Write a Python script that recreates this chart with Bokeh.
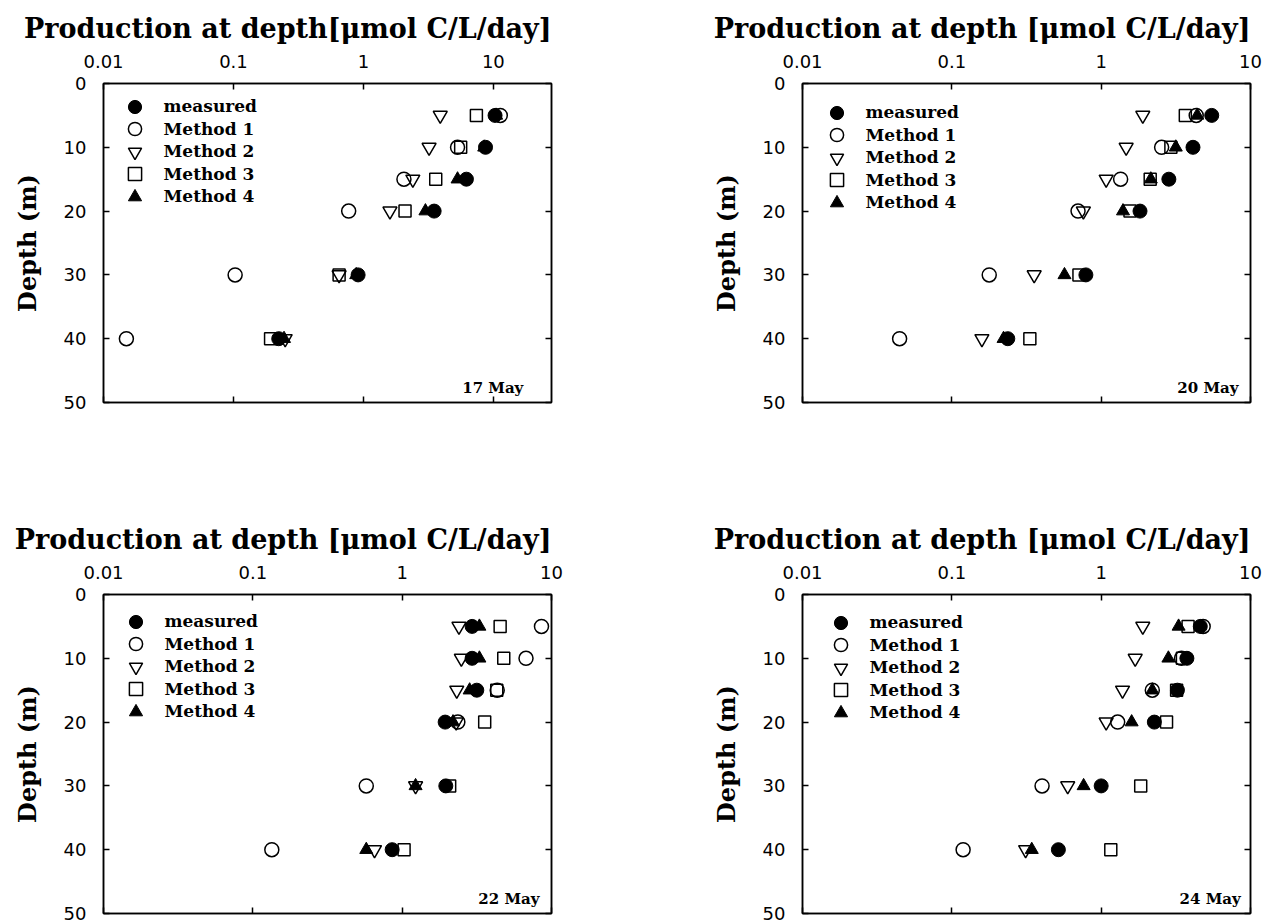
from bokeh.plotting import figure
from bokeh.models import (Range1d, LogAxis, LinearAxis, FixedTicker, CustomJSTickFormatter,
                          Legend, LegendItem, Label)
from bokeh.layouts import column, row
from bokeh.embed import file_html
from bokeh.resources import INLINE

# ---------------- data ----------------
depths = [5, 10, 15, 20, 30, 40]
x_ticks = [0.01, 0.1, 1, 10]
y_ticks = [0, 10, 20, 30, 40, 50]
series_names = ["measured", "Method 1", "Method 2", "Method 3", "Method 4"]

may17_measured = [10.3, 8.7, 6.2, 3.5, 0.91, 0.223]
may17_method1 = [11.3, 5.3, 2.05, 0.77, 0.103, 0.015]
may17_method2 = [3.9, 3.2, 2.4, 1.6, 0.65, 0.25]
may17_method3 = [7.4, 5.6, 3.6, 2.09, 0.65, 0.193]
may17_method4 = [10.5, 8.5, 5.3, 3.0, 0.88, 0.245]

may20_measured = [5.5, 4.12, 2.84, 1.82, 0.79, 0.237]
may20_method1 = [4.33, 2.54, 1.35, 0.70, 0.178, 0.0447]
may20_method2 = [1.9, 1.47, 1.08, 0.76, 0.356, 0.159]
may20_method3 = [3.66, 2.93, 2.13, 1.56, 0.71, 0.333]
may20_method4 = [4.4, 3.16, 2.15, 1.40, 0.568, 0.222]

may22_measured = [2.94, 2.94, 3.16, 1.94, 1.96, 0.857]
may22_method1 = [8.57, 6.75, 4.33, 2.36, 0.575, 0.134]
may22_method2 = [2.4, 2.49, 2.32, 2.3, 1.23, 0.653]
may22_method3 = [4.53, 4.79, 4.3, 3.57, 2.08, 1.03]
may22_method4 = [3.29, 3.29, 2.83, 2.19, 1.23, 0.575]

may24_measured = [4.61, 3.75, 3.24, 2.27, 1.0, 0.517]
may24_method1 = [4.82, 3.45, 2.2, 1.29, 0.402, 0.119]
may24_method2 = [1.9, 1.69, 1.39, 1.08, 0.597, 0.312]
may24_method3 = [3.82, 3.5, 3.2, 2.74, 1.84, 1.16]
may24_method4 = [3.3, 2.82, 2.2, 1.6, 0.763, 0.343]

panel_dates = ["17 May", "20 May", "22 May", "24 May"]
panel_titles = ["Production at depth[\u03bcmol C/L/day]",
                "Production at depth [\u03bcmol C/L/day]",
                "Production at depth [\u03bcmol C/L/day]",
                "Production at depth [\u03bcmol C/L/day]"]
panel_xmax = [28, 10, 10, 10]
panel_series = [
    [may17_measured, may17_method1, may17_method2, may17_method3, may17_method4],
    [may20_measured, may20_method1, may20_method2, may20_method3, may20_method4],
    [may22_measured, may22_method1, may22_method2, may22_method3, may22_method4],
    [may24_measured, may24_method1, may24_method2, may24_method3, may24_method4],
]

# ---------------- styles / layout ----------------
SERIF = "DejaVu Serif"
SANS = "DejaVu Sans"
marker_styles = [
    dict(marker="circle", size=14, fill_color="black", line_color="black"),
    dict(marker="circle", size=14, fill_color=None, line_color="black", line_width=1.5),
    dict(marker="inverted_triangle", size=14, fill_color=None, line_color="black", line_width=1.5),
    dict(marker="square", size=12, fill_color=None, line_color="black", line_width=1.5),
    dict(marker="triangle", size=13, fill_color="black", line_color="black"),
]

FRAME_H = 319
widths = [640, 625, 640, 625]
heights = [510, 510, 413, 413]
b_left = [103, 162, 103, 162]
b_right = [89, 15, 89, 15]
b_top = [83, 83, 84, 84]
b_bottom = [108, 108, 10, 10]
legend_dx = [31, 34, 32, 38]
legend_dy = [23, 29, 27, 28]
legend_pitch = 22.6
date_x = [17, 8.3, 8.3, 8.6]
date_y = 47.8

fmt = CustomJSTickFormatter(code="return String(tick);")
blank_fmt = CustomJSTickFormatter(code="return '';")


def make_panel(i):
    p = figure(width=widths[i], height=heights[i], x_axis_type="log", x_axis_location="above",
               x_range=Range1d(0.01, panel_xmax[i]), y_range=Range1d(50, 0),
               toolbar_location=None, output_backend="svg",
               min_border_left=b_left[i], min_border_right=b_right[i],
               min_border_top=b_top[i], min_border_bottom=b_bottom[i],
               title=panel_titles[i])
    p.title.align = "right"
    p.title.text_font = SERIF
    p.title.text_font_size = "27px"
    p.title.text_font_style = "bold"
    p.title.text_color = "black"
    p.title.standoff = 15
    p.grid.visible = False
    p.outline_line_color = "black"
    p.outline_line_width = 1.5
    p.background_fill_color = "white"
    p.border_fill_color = "white"

    # top axis
    xa = p.xaxis[0]
    xa.ticker = FixedTicker(ticks=x_ticks)
    xa.formatter = fmt
    ya = p.yaxis[0]
    ya.ticker = FixedTicker(ticks=y_ticks)
    for ax in (xa, ya):
        ax.major_tick_in = 6
        ax.major_tick_out = 0
        ax.minor_tick_line_color = None
        ax.axis_line_color = "black"
        ax.axis_line_width = 1.5
        ax.major_tick_line_width = 1.5
        ax.major_label_text_font = SANS
        ax.major_label_text_font_size = "18px"
        ax.major_label_text_color = "black"
    xa.major_label_standoff = 16
    ya.major_label_standoff = 17
    ya.axis_label = "Depth (m)"
    ya.axis_label_text_font = SERIF
    ya.axis_label_text_font_size = "24px"
    ya.axis_label_text_font_style = "bold"
    ya.axis_label_standoff = 19
    ya.axis_label_text_color = "black"

    # mirrored tick axes (bottom, right)
    xb = LogAxis(ticker=FixedTicker(ticks=x_ticks), formatter=blank_fmt)
    yr = LinearAxis(ticker=FixedTicker(ticks=y_ticks), formatter=blank_fmt)
    for ax in (xb, yr):
        ax.major_tick_in = 6
        ax.major_tick_out = 0
        ax.minor_tick_line_color = None
        ax.axis_line_color = "black"
        ax.axis_line_width = 1.5
        ax.major_tick_line_width = 1.5
        ax.major_label_text_font_size = "1px"
        ax.major_label_standoff = 0
    p.add_layout(xb, "below")
    p.add_layout(yr, "right")

    g = 33
    for k, (name, vals, st) in enumerate(zip(series_names, panel_series[i], marker_styles)):
        r = p.scatter(vals, depths, **st)
        top = legend_dy[i] + legend_pitch * k - g / 2
        leg = Legend(items=[LegendItem(label=name, renderers=[r])],
                     location=(legend_dx[i] - g / 2, FRAME_H - top - g),
                     glyph_width=g, glyph_height=g, label_height=g, spacing=0,
                     padding=0, margin=0, label_standoff=13,
                     border_line_color=None, background_fill_alpha=0,
                     label_text_font=SERIF, label_text_font_size="17px",
                     label_text_font_style="bold", label_text_color="black")
        p.add_layout(leg, "center")

    p.add_layout(Label(x=date_x[i], y=date_y, text=panel_dates[i], text_align="right",
                       text_baseline="alphabetic", text_font=SERIF, text_font_size="15px",
                       text_font_style="bold", text_color="black"))
    return p


plots = [make_panel(i) for i in range(4)]
layout = column(row(plots[0], plots[1]), row(plots[2], plots[3]))

open("out.html", "w").write(file_html(layout, INLINE))
